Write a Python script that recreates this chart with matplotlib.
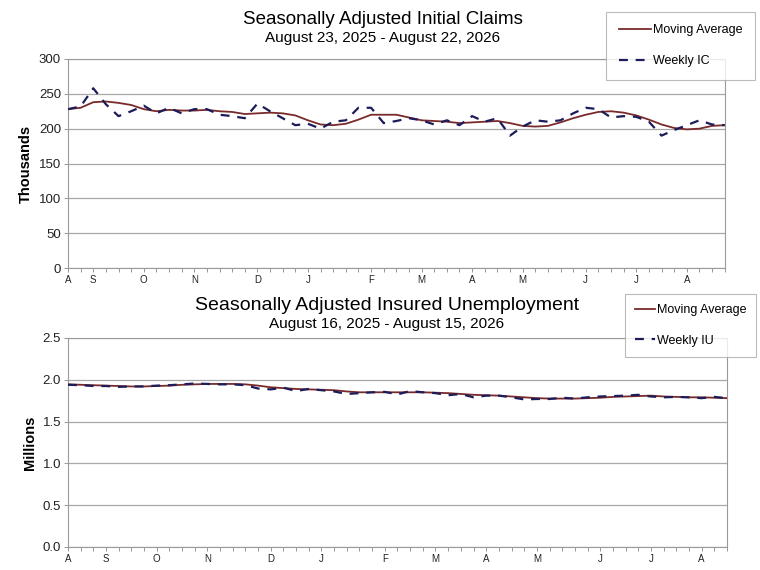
import matplotlib
matplotlib.use("Agg")
from matplotlib import pyplot as plt

plt.rcParams['font.family'] = ['Liberation Sans', 'DejaVu Sans']

month_labels = ['A', 'S', 'O', 'N', 'D', 'J', 'F', 'M', 'A', 'M', 'J', 'J', 'A']

# initial claims, weeks ending Aug 23 2025 .. Aug 22 2026 (thousands)
ic_weekly = [228, 232, 258, 235, 218, 225, 233, 222, 230, 222, 228, 228, 220,
             218, 215, 236, 225, 215, 205, 207, 200, 210, 212, 230, 230, 208,
             211, 215, 212, 206, 212, 205, 218, 210, 215, 190, 203, 212, 210,
             212, 222, 230, 228, 216, 218, 217, 210, 190, 198, 205, 212, 206,
             205]
ic_ma = [228, 230, 238, 239, 237, 234, 228, 225, 227, 226, 226, 227, 225,
         224, 221, 222, 223, 222, 219, 212, 206, 205, 207, 213, 220, 220,
         220, 216, 212, 211, 210, 208, 209, 210, 211, 208, 204, 203, 204,
         209, 215, 220, 224, 225, 223, 219, 213, 206, 201, 199, 200, 204,
         205]
ic_month_idx = [0, 2, 6, 10, 15, 19, 24, 28, 32, 36, 41, 45, 49]

# insured unemployment, weeks ending Aug 16 2025 .. Aug 15 2026 (millions)
iu_weekly = [1.94, 1.935, 1.925, 1.925, 1.915, 1.92, 1.92, 1.93, 1.935, 1.945,
             1.955, 1.95, 1.945, 1.945, 1.935, 1.895, 1.885, 1.905, 1.865, 1.89,
             1.875, 1.86, 1.83, 1.84, 1.85, 1.855, 1.825, 1.865, 1.85, 1.84,
             1.815, 1.83, 1.79, 1.81, 1.81, 1.79, 1.765, 1.77, 1.77, 1.785,
             1.775, 1.79, 1.80, 1.805, 1.81, 1.82, 1.80, 1.79, 1.795, 1.79,
             1.78, 1.795, 1.78]
iu_ma = [1.945, 1.94, 1.935, 1.93, 1.925, 1.92, 1.92, 1.925, 1.93, 1.94,
         1.945, 1.95, 1.95, 1.95, 1.945, 1.93, 1.91, 1.90, 1.89, 1.885,
         1.88, 1.875, 1.86, 1.85, 1.85, 1.85, 1.85, 1.85, 1.85, 1.845,
         1.84, 1.83, 1.82, 1.815, 1.81, 1.80, 1.79, 1.78, 1.775, 1.775,
         1.775, 1.78, 1.785, 1.795, 1.80, 1.805, 1.81, 1.80, 1.795, 1.79,
         1.79, 1.785, 1.78]
iu_month_idx = [0, 3, 7, 11, 16, 20, 25, 29, 33, 37, 42, 46, 50]

ma_color = '#7a2a2a'
wk_color = '#1c1c5a'
grid_color = '#a8a8a8'


def draw_panel(fig, rect, weekly, ma, month_idx, ylim, yticks, yfmt, ylabel,
               title, subtitle, wk_label, title_x, title_y, title_size,
               leg_anchor, leg_pad, leg_handle):
    ax = fig.add_axes(rect)
    x = list(range(len(weekly)))
    ax.plot(x, ma, color=ma_color, linewidth=1.3, label='Moving Average', zorder=3)
    ax.plot(x, weekly, color=wk_color, linewidth=1.6, linestyle=(0, (4, 3.5)),
            label=wk_label, zorder=4)

    ax.set_xlim(0, len(weekly) - 1)
    ax.set_ylim(*ylim)
    ax.set_yticks(yticks)
    ax.set_yticklabels([yfmt.format(v) for v in yticks], fontsize=9.5, color='#222222')
    ax.set_xticks(month_idx)
    ax.set_xticklabels(month_labels, fontsize=7, color='#222222')
    ax.set_xticks(x, minor=True)
    ax.tick_params(axis='x', which='both', length=3, width=0.6, color='#888888', pad=2)
    ax.tick_params(axis='y', length=3, width=0.6, color='#888888', pad=2)
    ax.grid(axis='y', color=grid_color, linewidth=0.9)
    ax.set_axisbelow(True)
    for s in ax.spines.values():
        s.set_color('#9a9a9a')
        s.set_linewidth(0.8)
    ax.set_ylabel(ylabel, fontsize=10.5, fontweight='bold', labelpad=4)

    fig.text(title_x, title_y, title, ha='center', va='center', fontsize=title_size)
    fig.text(title_x, title_y - 0.032, subtitle, ha='center', va='center', fontsize=11)

    leg = fig.legend(*ax.get_legend_handles_labels(), loc='upper right',
                     bbox_to_anchor=leg_anchor, fontsize=9, frameon=True,
                     fancybox=False, labelspacing=1.5, handlelength=leg_handle,
                     handletextpad=0.1, borderpad=leg_pad, borderaxespad=0)
    leg.get_frame().set_edgecolor('#aaaaaa')
    leg.get_frame().set_linewidth(0.8)
    return ax


fig = plt.figure(figsize=(7.6, 5.7), dpi=100)

draw_panel(fig, [0.0895, 0.5298, 0.864, 0.3667], ic_weekly, ic_ma, ic_month_idx,
           (0, 300), [0, 50, 100, 150, 200, 250, 300], '{:.0f}', 'Thousands',
           'Seasonally Adjusted Initial Claims', 'August 23, 2025 - August 22, 2026',
           'Weekly IC', 0.504, 0.966, 13.5, (0.993, 0.979), 1.0, 2.6)

draw_panel(fig, [0.0895, 0.0404, 0.867, 0.3667], iu_weekly, iu_ma, iu_month_idx,
           (0, 2.5), [0.0, 0.5, 1.0, 1.5, 2.0, 2.5], '{:.1f}', 'Millions',
           'Seasonally Adjusted Insured Unemployment', 'August 16, 2025 - August 15, 2026',
           'Weekly IU', 0.509, 0.464, 14, (0.995, 0.484), 0.8, 1.6)

fig.savefig('out.png', dpi=100)
